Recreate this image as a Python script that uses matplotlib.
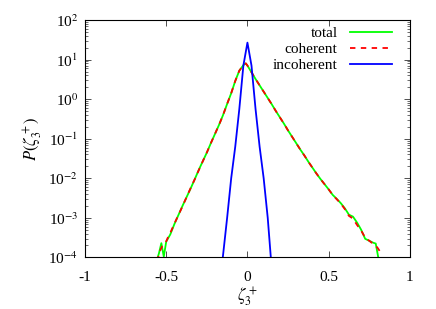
import numpy as np
import matplotlib
matplotlib.use('Agg')
import matplotlib.pyplot as plt

# total PDF (log10 values)
total_x = [-0.56, -0.545, -0.53, -0.515, -0.50, -0.475, -0.45, -0.425, -0.40, -0.375,
           -0.35, -0.325, -0.30, -0.275, -0.25, -0.225, -0.20, -0.175, -0.15, -0.125,
           -0.10, -0.075, -0.05, -0.025, -0.01, 0.0, 0.025, 0.05, 0.075, 0.10,
           0.125, 0.15, 0.175, 0.20, 0.225, 0.25, 0.275, 0.30, 0.325, 0.35,
           0.375, 0.40, 0.425, 0.45, 0.475, 0.50, 0.525, 0.55, 0.575, 0.60,
           0.625, 0.65, 0.675, 0.70, 0.725, 0.75, 0.775, 0.79, 0.81]
total_log = [-4.1, -3.9, -3.64, -3.98, -3.6, -3.42, -3.16, -2.93, -2.70, -2.48,
             -2.26, -2.03, -1.79, -1.57, -1.35, -1.11, -0.88, -0.65, -0.40, -0.12,
             0.15, 0.46, 0.72, 0.86, 0.905, 0.85, 0.68, 0.51, 0.35, 0.19,
             0.03, -0.13, -0.30, -0.46, -0.62, -0.79, -0.95, -1.11, -1.27, -1.42,
             -1.58, -1.73, -1.88, -2.02, -2.15, -2.28, -2.42, -2.52, -2.63, -2.76,
             -2.92, -2.97, -3.12, -3.30, -3.53, -3.58, -3.63, -3.65, -4.1]

# coherent part
coh_x = [-0.555, -0.54, -0.525, -0.505, -0.49, -0.475, -0.45, -0.425, -0.40, -0.375,
         -0.35, -0.325, -0.30, -0.275, -0.25, -0.225, -0.20, -0.175, -0.15, -0.125,
         -0.10, -0.075, -0.05, -0.025, -0.01, 0.0, 0.025, 0.05, 0.075, 0.10,
         0.125, 0.15, 0.175, 0.20, 0.225, 0.25, 0.275, 0.30, 0.325, 0.35,
         0.375, 0.40, 0.425, 0.45, 0.475, 0.50, 0.525, 0.55, 0.575, 0.60,
         0.625, 0.65, 0.675, 0.70, 0.725, 0.75, 0.775, 0.80, 0.826]
coh_log = [-4.1, -3.85, -3.72, -3.64, -3.5, -3.38, -3.15, -2.93, -2.71, -2.48,
           -2.25, -2.03, -1.80, -1.57, -1.35, -1.11, -0.88, -0.65, -0.40, -0.12,
           0.15, 0.46, 0.72, 0.86, 0.905, 0.85, 0.68, 0.51, 0.35, 0.19,
           0.03, -0.13, -0.30, -0.46, -0.62, -0.79, -0.95, -1.11, -1.27, -1.42,
           -1.58, -1.73, -1.88, -2.02, -2.15, -2.28, -2.42, -2.53, -2.64, -2.78,
           -2.95, -3.02, -3.18, -3.32, -3.50, -3.58, -3.66, -3.75, -3.91]

# incoherent part
inc_x = [-0.153, -0.125, -0.10, -0.075, -0.05, -0.025, 0.0, 0.025, 0.05, 0.075, 0.10, 0.125, 0.145]
inc_log = [-4.05, -3.0, -2.0, -1.2, -0.25, 0.85, 1.43, 0.85, -0.25, -1.2, -2.0, -3.0, -4.05]

plt.rcParams['font.family'] = ['Liberation Serif', 'DejaVu Serif']
plt.rcParams['mathtext.fontset'] = 'stix'
plt.rcParams['axes.unicode_minus'] = False

fig = plt.figure(figsize=(4.36, 3.09), dpi=100)
ax = fig.add_axes([0.195, 0.167, 0.745, 0.768])

ax.plot(total_x, 10 ** np.array(total_log), color='#00ff00', lw=1.3, label='total')
ax.plot(coh_x, 10 ** np.array(coh_log), color='#ff0000', lw=1.3, dashes=(3, 3), label='coherent')
ax.plot(inc_x, 10 ** np.array(inc_log), color='#0000ff', lw=1.3, label='incoherent')

ax.set_yscale('log')
ax.set_xlim(-1, 1)
ax.set_ylim(1e-4, 1e2)
ax.set_xticks([-1, -0.5, 0, 0.5, 1])
ax.set_xticklabels(['-1', '-0.5', '0', '0.5', '1'])
ax.set_yticks([1e-4, 1e-3, 1e-2, 1e-1, 1e0, 1e1, 1e2])
ax.set_yticklabels([r'10$^{-4}$', r'10$^{-3}$', r'10$^{-2}$', r'10$^{-1}$',
                    r'10$^{0}$', r'10$^{1}$', r'10$^{2}$'])
ax.tick_params(which='both', direction='in', top=True, right=True, labelsize=11, color='#333333')
ax.tick_params(which='major', length=4, width=0.6, pad=5)
ax.tick_params(axis='x', which='major', pad=10)
ax.tick_params(which='minor', length=2, width=0.5)
ax.tick_params(axis='x', which='minor', bottom=False, top=False)
for s in ax.spines.values():
    s.set_linewidth(0.8)

ax.set_xlabel(r'$\zeta_3^+$', fontsize=12, labelpad=1)
ax.set_ylabel(r'$P(\zeta_3^+)$', fontsize=12, labelpad=2)

ax.legend(loc='upper right', bbox_to_anchor=(0.963, 1.0), frameon=False,
          markerfirst=False, fontsize=11, handlelength=2.75, handletextpad=0.8,
          labelspacing=0.15, borderaxespad=0)

fig.savefig('out.png', dpi=100)
